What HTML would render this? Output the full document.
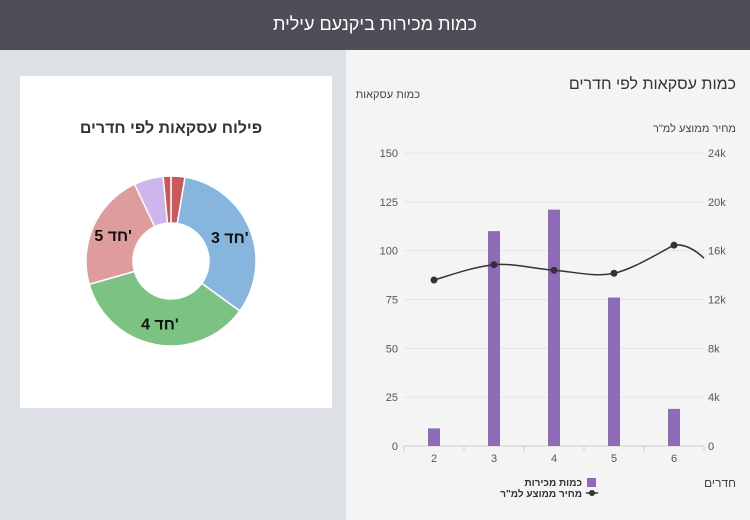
<!DOCTYPE html>
<html><head><meta charset="utf-8">
<style>
body{margin:0;width:750px;height:520px;overflow:hidden;font-family:"Liberation Sans","Noto Sans CJK SC",sans-serif;background:#f4f4f4;position:relative}
#hdr{position:absolute;left:0;top:0;width:750px;height:50px;background:#4d4e57;color:#fff;font-size:18px;text-align:center;line-height:48px}
#left{position:absolute;left:0;top:50px;width:346px;height:470px;background:#dde0e4}
#card{position:absolute;left:20px;top:26px;width:312px;height:332px;background:#fff}
svg text{font-family:"Liberation Sans","Noto Sans CJK SC",sans-serif}
</style></head><body>
<div id="hdr">כמות מכירות ביקנעם עילית</div>
<div id="left"><div id="card"></div></div>
<svg id="main" width="750" height="520" style="position:absolute;left:0;top:0">
<text x="171" y="133" text-anchor="middle" font-size="16" font-weight="bold" fill="#333">פילוח עסקאות לפי חדרים</text>
<g id="donut"></g>
<text x="736" y="89" text-anchor="end" font-size="16" fill="#333">כמות עסקאות לפי חדרים</text>
<text x="420" y="98" text-anchor="end" font-size="11" fill="#444">כמות עסקאות</text>
<text x="736" y="132" text-anchor="end" font-size="11" fill="#444">מחיר ממוצע למ"ר</text>
<text x="736" y="487" text-anchor="end" font-size="12" fill="#444">חדרים</text>
<g id="bars"></g>
<g>
<rect x="587" y="478" width="9" height="9" fill="#8e6bb6"/>
<text x="582" y="486" text-anchor="end" font-size="10" font-weight="bold" fill="#333">כמות מכירות</text>
<line x1="586" y1="493" x2="598" y2="493" stroke="#333" stroke-width="1.5"/><circle cx="592" cy="493" r="3" fill="#333"/>
<text x="582" y="497" text-anchor="end" font-size="10" font-weight="bold" fill="#333">מחיר ממוצע למ"ר</text>
</g>
</svg>
<script>
const categories=[2,3,4,5,6];
const sales=[9,110,121,76,19];
const prices=[13600,14850,14400,14150,16450];
const leftTicks=[0,25,50,75,100,125,150];
const rightTicks=["0","4k","8k","12k","16k","20k","24k"];
const pieLabels=["2 חד'","3 חד'","4 חד'","5 חד'","6 חד'","אחר"];
const pieValues=[9,110,121,76,19,5];
const pieColors=["#c9585a","#86b6de","#7cc283","#de9c9c","#cdb6ec","#c9585a"];
const NS="http://www.w3.org/2000/svg";
function mk(p,t,a){const e=document.createElementNS(NS,t);for(const k in a)e.setAttribute(k,a[k]);p.appendChild(e);return e;}
const bars=document.getElementById('bars');
const x0=404,x1=704,y0=446,y1=153;
const xs=i=>x0+(x1-x0)*(i+0.5)/categories.length;
const yL=v=>y0-(v/150)*(y0-y1);
const yR=v=>y0-(v/24000)*(y0-y1);
leftTicks.forEach((t,i)=>{
  const y=yL(t);
  const g=mk(bars,'line',{x1:x0,x2:x1,y1:y,y2:y,stroke:i?'#e4e4e4':'#ccc','stroke-width':1});
  
  
  const l=mk(bars,'text',{x:398,y:y+4,'text-anchor':'end','font-size':11,fill:'#555'});l.textContent=t;
  
  
  const r=mk(bars,'text',{x:708,y:y+4,'font-size':11,fill:'#555'});r.textContent=rightTicks[i];
  
  
});
for(let i=0;i<=categories.length;i++){const xx=x0+(x1-x0)*i/categories.length;mk(bars,'line',{x1:xx,x2:xx,y1:y0,y2:y0+5,stroke:'#ccc'});}
categories.forEach((c,i)=>{
  const b=mk(bars,'rect',{x:xs(i)-6,y:yL(sales[i]),width:12,height:y0-yL(sales[i]),fill:'#8e6bb6'});
  
  
  const t=mk(bars,'text',{x:xs(i),y:y0+16,'text-anchor':'middle','font-size':11,fill:'#555'});t.textContent=c;
  
  
});
const pts=prices.map((p,i)=>[xs(i),yR(p)]);
let d='M'+pts[0][0]+','+pts[0][1];
for(let i=0;i<pts.length-1;i++){
  const p0=pts[Math.max(0,i-1)],p1=pts[i],p2=pts[i+1],p3=pts[Math.min(pts.length-1,i+2)];
  d+=' C'+(p1[0]+(p2[0]-p0[0])/6)+','+(p1[1]+(p2[1]-p0[1])/6)+' '+(p2[0]-(p3[0]-p1[0])/6)+','+(p2[1]-(p3[1]-p1[1])/6)+' '+p2[0]+','+p2[1];
}
const last=pts[pts.length-1];
d+=' Q'+(last[0]+14)+','+(last[1]-2)+' '+(last[0]+30)+','+(last[1]+13);
const ln=mk(bars,'path',{d:d,fill:'none',stroke:'#333','stroke-width':1.5});


pts.forEach(p=>{const c=mk(bars,'circle',{cx:p[0],cy:p[1],r:3.5,fill:'#333'});
  
  });
// donut
const dg=document.getElementById('donut');
const cx=171,cy=261,R=85,r=38;
const tot=pieValues.reduce((a,b)=>a+b,0);
let a=0;
const P=(ang,rad)=>[cx+rad*Math.sin(ang),cy-rad*Math.cos(ang)];
pieValues.forEach((v,i)=>{
  const a1=a+v/tot*2*Math.PI,lg=(a1-a)>Math.PI?1:0;
  const o0=P(a,R),o1=P(a1,R),i1=P(a1,r),i0=P(a,r);
  const s=mk(dg,'path',{d:`M${o0}L${o0}A${R},${R} 0 ${lg} 1 ${o1}L${i1}A${r},${r} 0 ${lg} 0 ${i0}Z`,fill:pieColors[i],stroke:'#fff','stroke-width':1.5});
  
  
  if(v/tot>0.15){const m=P((a+a1)/2,(R+r)/2+2);
    const t=mk(dg,'text',{x:m[0],y:m[1]+6,'text-anchor':'middle','font-size':16,'font-weight':'bold',fill:'#111'});t.textContent=pieLabels[i];
    
    }
  a=a1;
});
</script>
</body></html>
